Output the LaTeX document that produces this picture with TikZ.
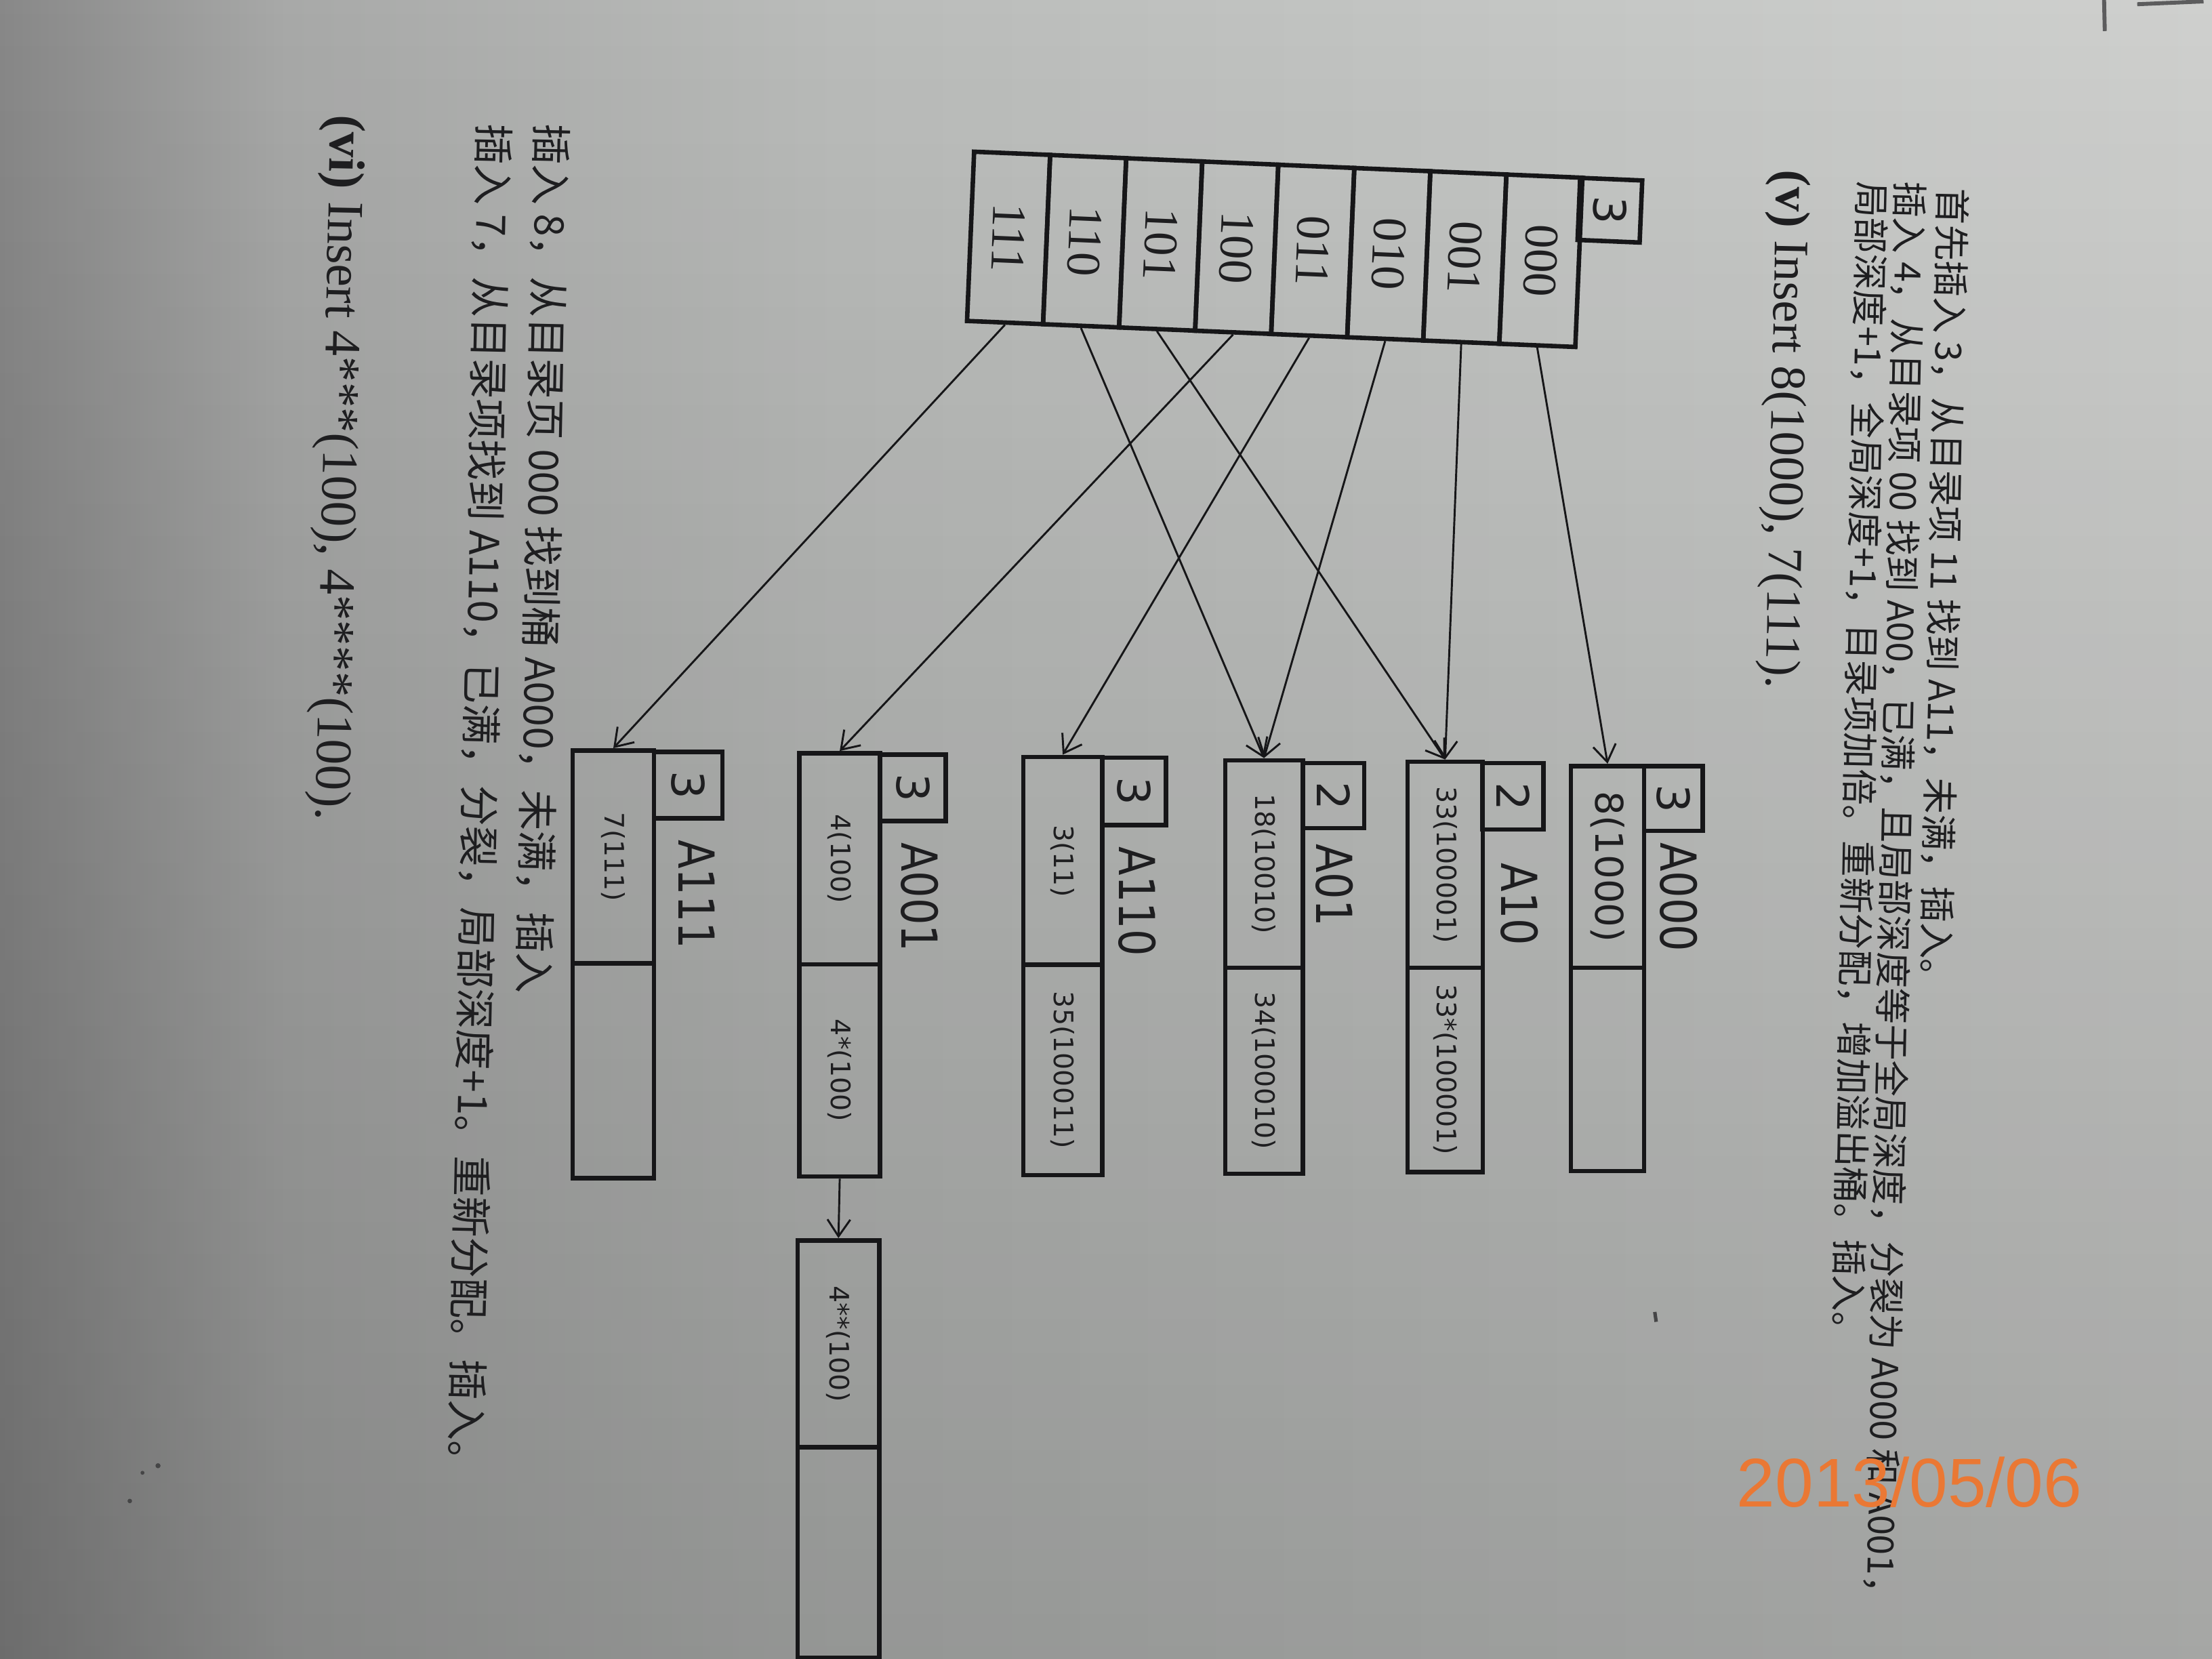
\documentclass[tikz,border=0pt]{standalone}
\usepackage{fontspec}
\setmainfont{Liberation Serif}
\newfontfamily\cjkfont{Noto Sans CJK SC}
\newfontfamily\dvsans{DejaVu Sans}
\newfontfamily\lsans{Liberation Sans}
\usetikzlibrary{arrows.meta,fadings}
\definecolor{ink}{RGB}{22,22,24}
\definecolor{inktext}{RGB}{30,30,32}
\definecolor{paperA}{RGB}{136,136,136}
\definecolor{paperB}{RGB}{168,169,168}
\definecolor{paperC}{RGB}{186,188,186}
\definecolor{paperD}{RGB}{198,200,198}
\definecolor{paperE}{RGB}{207,208,206}
\definecolor{stamp}{RGB}{234,120,52}
\pgfdeclarehorizontalshading{paper}{100bp}{color(0bp)=(paperA); color(25bp)=(paperA); color(31.5bp)=(paperB); color(44bp)=(paperC); color(62.5bp)=(paperD); color(75bp)=(paperE); color(100bp)=(paperE)}
\newcommand\fDir{\fontsize{9.7}{11}\selectfont}
\newcommand\fDepth{\dvsans\fontsize{9}{10}\selectfont}
\newcommand\fCont{\dvsans\fontsize{5.4}{6.5}\selectfont}
\newcommand\fBig{\dvsans\fontsize{7.7}{9}\selectfont}
\newcommand\fLab{\dvsans\fontsize{10}{12}\selectfont}
\newcommand\fCJK{\cjkfont\fontsize{7.3}{9}\selectfont}
\newcommand\fCJKb{\cjkfont\fontsize{8.2}{10}\selectfont}
\newcommand\fEn{\fontsize{10}{12}\selectfont}
\newcommand\fEnb{\fontsize{10.3}{12}\selectfont}
\tikzset{
 dircell/.style={draw=ink, line width=0.9pt, rotate=-92.4, minimum width=1.2cm, minimum height=0.539cm, inner sep=0pt, font=\fDir, text=inktext},
 dirdepth/.style={draw=ink, line width=0.9pt, rotate=-92.4, minimum width=0.44cm, minimum height=0.44cm, inner sep=0pt, font=\fDepth, text=inktext},
 bcell/.style={draw=ink, line width=0.9pt, rotate=-90, inner sep=0pt, font=\fCont, text=inktext},
 bdepth/.style={draw=ink, line width=0.9pt, rotate=-90, inner sep=0pt, font=\fDepth, text=inktext},
 blabel/.style={rotate=-90, xscale=0.85, inner sep=0pt, font=\fLab, text=inktext},
 cjkline/.style={rotate=-91.2, anchor=west, inner sep=0pt, font=\fCJK, text=inktext},
 enline/.style={rotate=-91.2, anchor=west, inner sep=0pt, font=\fEn, text=inktext},
 ptr/.style={draw=ink, line width=0.4pt, -{Straight Barb[length=3.4pt,width=4.6pt]}},
}
\begin{document}
\begin{tikzpicture}[x=0.01cm,y=-0.01cm]
\useasboundingbox (0,0) rectangle (1568,1176);
% paper
\shade[shading=paper] (0,0) rectangle (1568,1176);
\fill[black, fill opacity=0.2, path fading=north] (0,0) rectangle (1568,1176);

% text (top)
\node[cjkline] (t1) at (1384,133) {首先插入 3，从目录项 11 找到 A11，未满，插入。};
\node[cjkline] (t2) at (1354,128) {插入 4，从目录项 00 找到 A00，已满，且局部深度等于全局深度，分裂为 A000 和 A001，};
\node[cjkline] (t3) at (1327,128) {局部深度+1，全局深度+1，目录项加倍。重新分配，增加溢出桶。插入。};
\node[enline] (t4) at (1268,120) {\textbf{(v)} Insert 8(1000), 7(111).};

% text (bottom)
\node[cjkline, font=\fCJKb] (b1) at (391,87) {插入 8，从目录页 000 找到桶 A000，未满，插入};
\node[cjkline, font=\fCJKb] (b2) at (350,87) {插入 7，从目录项找到 A110，已满，分裂，局部深度+1。重新分配。插入。};
\node[enline, font=\fEnb] (b3) at (243,81) {\textbf{(vi)} Insert 4***(100), 4****(100).};

% directory
\node[dircell] (d111) at (714.95,168.66) {111};
\node[dircell] (d110) at (768.85,170.97) {110};
\node[dircell] (d101) at (822.75,173.28) {101};
\node[dircell] (d100) at (876.65,175.59) {100};
\node[dircell] (d011) at (930.55,177.91) {011};
\node[dircell] (d010) at (984.45,180.22) {010};
\node[dircell] (d001) at (1038.35,182.53) {001};
\node[dircell] (d000) at (1092.25,184.84) {000};
\node[dirdepth] (dgd) at (1141.2,149) {3};

% bucket A000
\node[bcell, minimum width=1.43cm, minimum height=0.519cm] (A000a) at (1139.55,614.5) {\fBig 8(1000)};
\node[bcell, minimum width=1.44cm, minimum height=0.519cm] (A000b) at (1139.55,758) {};
\node[bdepth, minimum width=0.46cm, minimum height=0.415cm] (A000d) at (1186.25,566) {3};
\node[blabel] (A000l) at (1190,636) {A000};
% bucket A10
\node[bcell, minimum width=1.46cm, minimum height=0.532cm] (A10a) at (1024.4,613) {33(100001)};
\node[bcell, minimum width=1.447cm, minimum height=0.532cm] (A10b) at (1024.4,758.35) {33*(100001)};
\node[bdepth, minimum width=0.47cm, minimum height=0.43cm] (A10d) at (1072.5,564.5) {2};
\node[blabel] (A10l) at (1077,641) {A10};
% bucket A01
\node[bcell, minimum width=1.47cm, minimum height=0.548cm] (A01a) at (896,612.5) {18(10010)};
\node[bcell, minimum width=1.46cm, minimum height=0.548cm] (A01b) at (896,759) {34(100010)};
\node[bdepth, minimum width=0.46cm, minimum height=0.436cm] (A01d) at (945.2,564) {2};
\node[blabel] (A01l) at (946,627.5) {A01};
% bucket A110
\node[bcell, minimum width=1.474cm, minimum height=0.558cm] (A110a) at (753.3,610.3) {3(11)};
\node[bcell, minimum width=1.49cm, minimum height=0.558cm] (A110b) at (753.3,758.5) {35(100011)};
\node[bdepth, minimum width=0.48cm, minimum height=0.453cm] (A110d) at (803.85,561) {3};
\node[blabel] (A110l) at (806,639) {A110};
% bucket A001
\node[bcell, minimum width=1.496cm, minimum height=0.573cm] (A001a) at (595.25,608.8) {4(100)};
\node[bcell, minimum width=1.504cm, minimum height=0.573cm] (A001b) at (595.25,758.8) {4*(100)};
\node[bdepth, minimum width=0.47cm, minimum height=0.466cm] (A001d) at (647.2,558.5) {3};
\node[blabel] (A001l) at (652,636) {A001};
% bucket A111
\node[bcell, minimum width=1.51cm, minimum height=0.575cm] (A111a) at (434.75,607.5) {7(111)};
\node[bcell, minimum width=1.52cm, minimum height=0.575cm] (A111b) at (434.75,759) {};
\node[bdepth, minimum width=0.47cm, minimum height=0.485cm] (A111d) at (487.75,556.5) {3};
\node[blabel] (A111l) at (494,634) {A111};
% overflow bucket
\node[bcell, minimum width=1.467cm, minimum height=0.579cm] (ovfa) at (594.35,952.65) {4**(100)};
\node[bcell, minimum width=1.49cm, minimum height=0.579cm] (ovfb) at (594.35,1100.5) {};

% pointers
\draw[ptr] (d000.east) -- (A000a.west);
\draw[ptr] (d001.east) -- (A10a.west);
\draw[ptr] (d010.east) -- (A01a.west);
\draw[ptr] (d011.east) -- (A110a.west);
\draw[ptr] (d100.east) -- (A001a.west);
\draw[ptr] (d101.east) -- (A10a.west);
\draw[ptr] (d110.east) -- (A01a.west);
\draw[ptr] (d111.east) -- (A111a.west);
\draw[ptr] (A001b.east) -- (ovfa.west);

% date stamp
\node[font=\lsans\fontsize{13.9}{16}\selectfont, text=stamp, inner sep=0pt] (date) at (1353.5,1050.5) {2013/05/06};

% page marks
\draw[ink!70, line width=0.8pt] (1491.5,0) -- (1492,22);
\draw[ink!70, line width=0.8pt] (1515,3) -- (1562,1);
\draw[ink!80, line width=0.7pt] (1173,930) -- (1174,937);
\fill[ink!80] (92,1064) circle (1.6);
\fill[ink!80] (101,1044) circle (1.4);
\fill[ink!80] (112,1039) circle (1.8);
\end{tikzpicture}
\end{document}
